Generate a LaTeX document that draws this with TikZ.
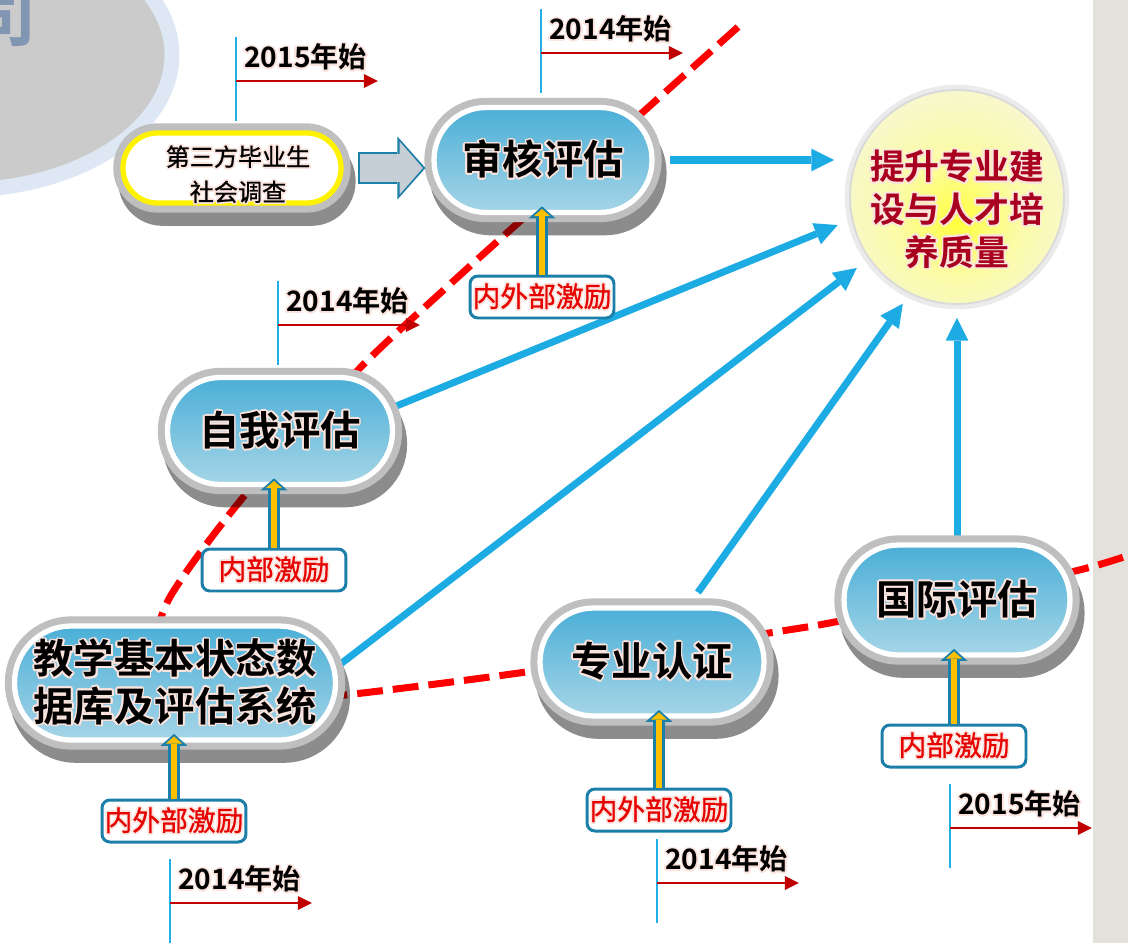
\documentclass[tikz,border=0pt]{standalone}
\usepackage{fontspec}
\setmainfont{Noto Sans CJK SC}[BoldFont={Noto Sans CJK SC Bold}]
\newfontfamily\semifont{Noto Sans CJK SC}[FakeBold=0.8]
\usepackage{contour}
\contourlength{0.9pt}
\contournumber{16}
\usetikzlibrary{arrows.meta,positioning}

\definecolor{skyflow}{HTML}{1CACE3}
\definecolor{pilltop}{HTML}{4BAFD7}
\definecolor{pillbot}{HTML}{A6D5E7}
\definecolor{tealline}{HTML}{1B7FA9}
\definecolor{boostyel}{HTML}{FFC000}
\definecolor{haloc}{HTML}{FBE4DD}
\definecolor{markred}{HTML}{C00000}
\definecolor{markblue}{HTML}{22AEE6}
\definecolor{goalred}{HTML}{A8001E}
\definecolor{spurred}{HTML}{E60000}
\definecolor{slate}{HTML}{8196B3}
\definecolor{ovalgray}{HTML}{CBCBCB}
\definecolor{ovalrim}{HTML}{DDE8F4}
\definecolor{stripgray}{HTML}{E4E0DB}
\definecolor{arrowgray}{HTML}{C6CFD5}
\definecolor{goalA}{HTML}{FFFF3C}
\definecolor{goalB}{HTML}{FBFBA6}
\definecolor{goalC}{HTML}{F7F7D4}
\definecolor{goalD}{HTML}{F2F2DA}
\definecolor{goalE}{HTML}{D9D9C2}

\pgfdeclareradialshading{goalshade}{\pgfpoint{0bp}{-6bp}}{%
  color(0bp)=(goalA); color(14bp)=(goalB); color(30bp)=(goalC);
  color(46bp)=(goalD); color(50bp)=(goalE)}

\pgfdeclarelayer{back}
\pgfsetlayers{back,main}

\newcommand{\glow}[1]{\contour{haloc}{#1}}

\begin{document}
\begin{tikzpicture}[x=0.02cm, y=-0.02cm,
    stage/.style={rectangle, draw=white, line width=3pt, inner sep=0pt,
      top color=pilltop, bottom color=pillbot, align=center,
      font=\bfseries\fontsize{23}{27}\selectfont,
      preaction={draw=black, opacity=.45, line width=11pt,
        transform canvas={shift={(2.8pt,-7.5pt)}}},
      preaction={draw=gray!50, line width=11pt}},
    survey/.style={stage, draw=yellow, top color=white, bottom color=white},
    spur/.style={rectangle, draw=tealline, line width=1.7pt, fill=white,
      rounded corners=4.5pt, minimum width=2.88cm, minimum height=0.84cm,
      inner sep=0pt, text=spurred, font=\semifont\fontsize{15.8}{18}\selectfont},
    goal/.style={circle, minimum size=4.28cm, inner sep=0pt, shading=goalshade, shade,
      draw=black!15, line width=1pt, preaction={draw=black!8, line width=6pt}},
    flow/.style={draw=skyflow, line width=4pt,
      -{Triangle[length=13pt, width=13pt, line width=0pt]}},
    boostout/.style={draw=tealline, line width=6.8pt, shorten >=-5pt,
      -{Triangle[length=6.8pt, width=15.3pt, line width=0pt]}},
    boostin/.style={draw=boostyel, line width=3.6pt, shorten >=-3.5pt,
      -{Triangle[length=4.1pt, width=9.3pt, line width=0pt]}},
    bigout/.style={draw=tealline, line width=18.1pt,
      -{Triangle[length=16pt, width=36pt, line width=0pt]}},
    bigin/.style={draw=arrowgray, line width=15.9pt,
      -{Triangle[length=13.2pt, width=30.2pt, line width=0pt]}},
    cut/.style={draw=red, line width=4pt, dash pattern=on 14.7pt off 5.7pt},
    tick/.style={draw=markblue, line width=0.9pt},
    yeararrow/.style={draw=markred, line width=1.3pt,
      -{Triangle[length=8pt, width=7.5pt]}},
    year/.style={inner sep=0pt, font=\bfseries\fontsize{16}{18}\selectfont}]

    \useasboundingbox (0,0) rectangle (1128,943);

    % Backdrop and the red dividing line
    \begin{pgfonlayer}{back}
        \fill[white] (0,0) rectangle (1128,943);
        \draw[ovalrim, line width=8.5pt, fill=ovalgray] (-40,55) ellipse [x radius=212, y radius=135];
        \node[text=slate, font=\bfseries\fontsize{40}{40}\selectfont, anchor=south east, inner sep=0pt] (title) at (37,47) {司};
        \fill[stripgray] (1093,0) rectangle (1128,943);

        \draw[cut] plot[smooth] coordinates {(738,27) (643,112) (518,223) (447,287) (358,370) (245,495) (170,597) (150,660)};
        \draw[cut] plot[smooth] coordinates {(250,702) (345,695) (540,670) (763,634) (850,619) (1067,573) (1135,553)};
    \end{pgfonlayer}

    % Goal
    \node[goal] (goal) at (957,197) {};
    \node[align=center, text=goalred, font=\bfseries\fontsize{19.8}{24.4}\selectfont] (goaltext) at (957,210)
        {\glow{提升专业建}\\\glow{设与人才培}\\\glow{养质量}};

    % Evaluation stages
    \node[survey, minimum width=4.36cm, minimum height=1.4cm, rounded corners=0.69cm] (survey) at (232,168) {};
    \node[align=center, font=\semifont\fontsize{13.7}{20}\selectfont] (surveytext) at (238,175)
        {\glow{第三方毕业生}\\\glow{社会调查}};
    \node[stage, minimum width=4.36cm, minimum height=2.1cm, rounded corners=1.04cm] (audit) at (543,160) {\glow{审核评估}};
    \node[stage, minimum width=4.5cm, minimum height=2.14cm, rounded corners=1.06cm] (self) at (280,431) {\glow{自我评估}};
    \node[stage, minimum width=6.42cm, minimum height=2.28cm, rounded corners=1.13cm] (data) at (175,683)
        {\glow{教学基本状态数}\\\glow{据库及评估系统}};
    \node[stage, minimum width=4.48cm, minimum height=2.16cm, rounded corners=1.07cm] (major) at (652,662) {\glow{专业认证}};
    \node[stage, minimum width=4.52cm, minimum height=2.2cm, rounded corners=1.09cm] (intl) at (957,600) {\glow{国际评估}};

    % Incentives
    \node[spur] (auditinc) at (542,297) {\glow{内外部激励}};
    \node[spur] (selfinc) at (274,570) {\glow{内部激励}};
    \node[spur] (datainc) at (174,821) {\glow{内外部激励}};
    \node[spur] (majorinc) at (659,810) {\glow{内外部激励}};
    \node[spur] (intlinc) at (954,746) {\glow{内部激励}};

    % Arrows into the goal
    \begin{pgfonlayer}{back}
        \draw[flow, shorten <=8.7pt, shorten >=8.5pt] (audit.east) -- (audit.east -| goal.west);
        \draw[flow, shorten >=8.5pt] (self.12) -- (goal.192);
        \draw[flow, shorten >=8.5pt] (data.6) -- (goal.215);
        \draw[flow, shorten <=9pt, shorten >=6.8pt] (major.57) -- (goal.244);
        \draw[flow, shorten >=7.4pt] (intl.north) -- (goal.south);
    \end{pgfonlayer}

    % Survey feeds the audit
    \draw[bigout, shorten <=8pt, shorten >=3.4pt] (survey.east) -- (survey.east -| audit.west);
    \draw[bigin, shorten <=9.1pt, shorten >=4.9pt] (survey.east) -- (survey.east -| audit.west);

    % Incentive arrows
    \draw[boostout] (auditinc.north) -- (auditinc.north |- audit.south);
    \draw[boostin] (auditinc.north) -- (auditinc.north |- audit.south);
    \draw[boostout] (selfinc.north) -- (selfinc.north |- self.south);
    \draw[boostin] (selfinc.north) -- (selfinc.north |- self.south);
    \draw[boostout] (datainc.north) -- (datainc.north |- data.south);
    \draw[boostin] (datainc.north) -- (datainc.north |- data.south);
    \draw[boostout] (majorinc.north) -- (majorinc.north |- major.south);
    \draw[boostin] (majorinc.north) -- (majorinc.north |- major.south);
    \draw[boostout] (intlinc.north) -- (intlinc.north |- intl.south);
    \draw[boostin] (intlinc.north) -- (intlinc.north |- intl.south);

    % Start years
    \coordinate (m1) at (236,81);
    \draw[tick] (m1) ++(0,-44) -- ++(0,84);
    \draw[yeararrow] (m1) -- ++(142,0);
    \node[year, above right=5pt and 4.5pt of m1] (y1) {\glow{2015年始}};

    \coordinate (m2) at (541,53);
    \draw[tick] (m2) ++(0,-44) -- ++(0,84);
    \draw[yeararrow] (m2) -- ++(142,0);
    \node[year, above right=5pt and 4.5pt of m2] (y2) {\glow{2014年始}};

    \coordinate (m3) at (278,325);
    \draw[tick] (m3) ++(0,-44) -- ++(0,84);
    \draw[yeararrow] (m3) -- ++(142,0);
    \node[year, above right=5pt and 4.5pt of m3] (y3) {\glow{2014年始}};

    \coordinate (m4) at (170,903);
    \draw[tick] (m4) ++(0,-44) -- ++(0,84);
    \draw[yeararrow] (m4) -- ++(142,0);
    \node[year, above right=5pt and 4.5pt of m4] (y4) {\glow{2014年始}};

    \coordinate (m5) at (657,883);
    \draw[tick] (m5) ++(0,-44) -- ++(0,84);
    \draw[yeararrow] (m5) -- ++(142,0);
    \node[year, above right=5pt and 4.5pt of m5] (y5) {\glow{2014年始}};

    \coordinate (m6) at (950,828);
    \draw[tick] (m6) ++(0,-44) -- ++(0,84);
    \draw[yeararrow] (m6) -- ++(142,0);
    \node[year, above right=5pt and 4.5pt of m6] (y6) {\glow{2015年始}};
\end{tikzpicture}
\end{document}
